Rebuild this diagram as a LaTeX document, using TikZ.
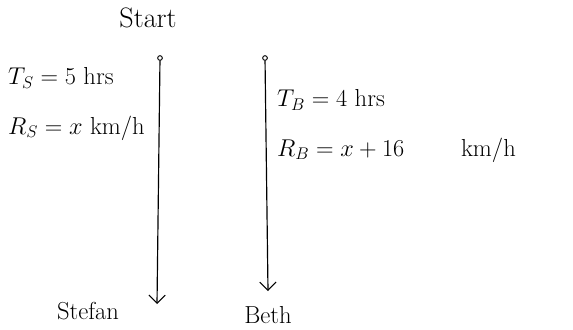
\documentclass[tikz,border=0pt]{standalone}
\usepackage{tikz}
\usetikzlibrary{arrows.meta, positioning}

\begin{document}
\begin{tikzpicture}[x=0.03cm, y=-0.03cm,
  lbl/.style={font=\fontsize{21}{24}\selectfont, inner sep=0pt},
  eqn/.style={lbl, anchor=west},
  trip/.style={line width=1pt, -{Straight Barb[length=7pt, width=14pt, line width=0.9pt]}},
  dot/.style={circle, draw, line width=0.8pt, fill=white, inner sep=0pt, minimum size=4pt}
]
\useasboundingbox (0,0) rectangle (573,329);
% the two trips
\node[lbl, font=\fontsize{24}{26}\selectfont] (start) at (148,18) {Start};
\node[dot] (stop) at (160,58) {};
\coordinate (send) at (157,304);
\node[dot] (btop) at (265,58) {};
\coordinate (bend) at (268,291);
\draw[trip] (stop) -- (send);
\draw[trip] (btop) -- (bend);
\node[lbl] (stefan) at (88,311) {Stefan};
\node[lbl] (beth) at (268,315) {Beth};
% times and rates
\node[eqn] (ts) at (8,78) {$T_S = 5$ hrs};
\node[eqn, below=1.5cm of ts.west, anchor=west] (rs) {$R_S = x$\ km/h};
\node[eqn] (tb) at (277,100) {$T_B = 4$ hrs};
\node[eqn, below=1.5cm of tb.west, anchor=west] (rb) {$R_B = x + 16$\qquad\ km/h};
\end{tikzpicture}
\end{document}
